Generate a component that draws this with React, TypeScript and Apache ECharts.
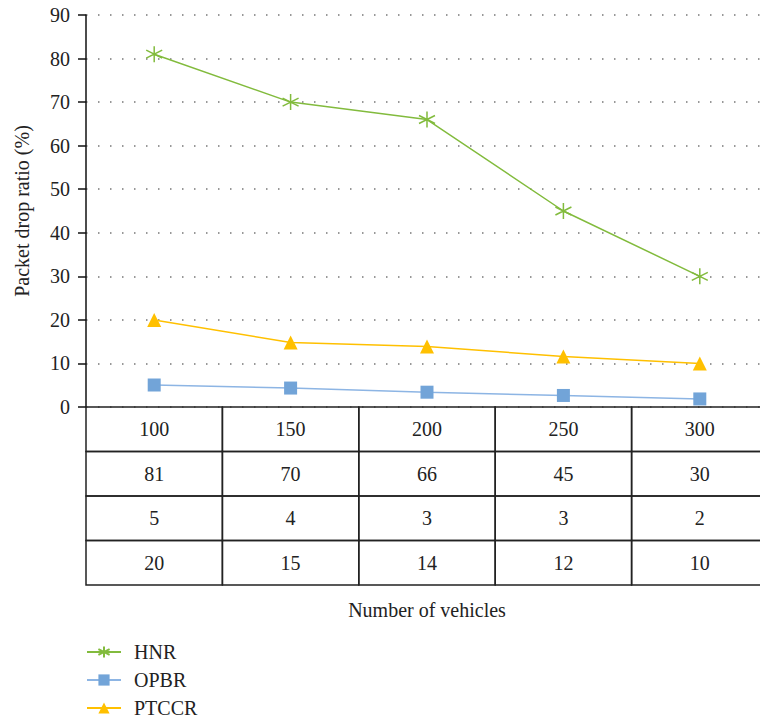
import React, { useEffect, useRef } from "react";
import * as echarts from "echarts";

const categories = ["100", "150", "200", "250", "300"];
const hnrValues = [81, 70, 66, 45, 30];
const opbrValues = [5.05, 4.35, 3.4, 2.65, 1.85];
const ptccrValues = [20, 14.8, 13.9, 11.6, 10];
const hnrTable = [81, 70, 66, 45, 30];
const opbrTable = [5, 4, 3, 3, 2];
const ptccrTable = [20, 15, 14, 12, 10];
const tableRows = ["Number of vehicles", "HNR", "OPBR", "PTCCR"];
const yTicks = { min: 0, max: 90, interval: 10 };

const FONT = "'Liberation Serif', 'DejaVu Serif', serif";
const FS = 20;
const GREEN = "#82bb3d";
const BLUE = "#72a4d8";
const BLUE_LINE = "#8db5e4";
const YELLOW = "#ffc000";
const STAR = "path://M0,-8L0,8M-7,-4L7,4M-7,4L7,-4";

export default function App() {
  const ref = useRef<HTMLDivElement>(null);
  useEffect(() => {
    if (!ref.current) return;
    const chart = echarts.init(ref.current, undefined, { renderer: "svg" });
    const rowValues = [categories, hnrTable, opbrTable, ptccrTable];
    const tableData: any[] = [];
    rowValues.forEach((row, ri) => {
      row.forEach((v, ci) => tableData.push([ci, ri, String(v)]));
    });
    chart.setOption({
      animation: false,
      textStyle: { fontFamily: FONT },
      grid: [
        { left: 86, top: 15, width: 695, height: 392 },
        { left: 86, top: 407, width: 695, height: 178 },
      ],
      xAxis: [
        {
          type: "category",
          gridIndex: 0,
          data: categories,
          boundaryGap: true,
          axisLine: { show: false },
          axisTick: { show: false },
          axisLabel: { show: false },
        },
        {
          type: "category",
          gridIndex: 1,
          data: categories,
          boundaryGap: true,
          axisLine: { show: false },
          axisTick: { show: false },
          axisLabel: { show: false },
          name: "Number of vehicles",
          nameLocation: "middle",
          nameGap: 15,
          nameTextStyle: { fontFamily: FONT, fontSize: FS, color: "#222", verticalAlign: "top" },
        },
      ],
      yAxis: [
        {
          type: "value",
          gridIndex: 0,
          min: yTicks.min,
          max: yTicks.max,
          interval: yTicks.interval,
          axisLine: { show: true, lineStyle: { color: "#111", width: 1.5 } },
          axisTick: { show: true, length: 8, lineStyle: { color: "#111", width: 1.5 } },
          axisLabel: { fontFamily: FONT, fontSize: FS, color: "#222", margin: 16 },
          splitLine: {
            show: true,
            lineStyle: { color: "#777", width: 1.5, type: [1.5, 10.5] },
          },
          name: "Packet drop ratio (%)",
          nameLocation: "middle",
          nameGap: 54,
          nameTextStyle: { fontFamily: FONT, fontSize: FS, color: "#222" },
        },
        {
          type: "category",
          gridIndex: 1,
          data: tableRows,
          inverse: true,
          axisLine: { show: false },
          axisTick: { show: false },
          axisLabel: { show: false },
        },
      ],
      legend: {
        orient: "vertical",
        left: 86,
        top: 642,
        padding: 0,
        itemWidth: 34,
        itemHeight: 14,
        itemGap: 8,
        textStyle: {
          fontFamily: FONT,
          fontSize: FS,
          color: "#222",
          lineHeight: 20,
          padding: [0, 0, 0, 8],
        },
        data: ["HNR", "OPBR", "PTCCR"],
      },
      series: [
        {
          name: "HNR",
          type: "line",
          xAxisIndex: 0,
          yAxisIndex: 0,
          data: hnrValues,
          symbol: STAR,
          symbolSize: 16,
          lineStyle: { color: GREEN, width: 1.5 },
          itemStyle: { color: GREEN, borderColor: GREEN, borderWidth: 1.5 },
        },
        {
          name: "OPBR",
          type: "line",
          xAxisIndex: 0,
          yAxisIndex: 0,
          data: opbrValues,
          symbol: "rect",
          symbolSize: 13,
          lineStyle: { color: BLUE_LINE, width: 1.5 },
          itemStyle: { color: BLUE },
        },
        {
          name: "PTCCR",
          type: "line",
          xAxisIndex: 0,
          yAxisIndex: 0,
          data: ptccrValues,
          symbol: "triangle",
          symbolSize: 14,
          lineStyle: { color: YELLOW, width: 1.5 },
          itemStyle: { color: YELLOW },
        },
        {
          type: "custom",
          xAxisIndex: 1,
          yAxisIndex: 1,
          data: tableData,
          silent: true,
          renderItem: (params: any, api: any) => {
            const c = api.coord([api.value(0), api.value(1)]);
            const s = api.size([1, 1]);
            return {
              type: "group",
              children: [
                {
                  type: "rect",
                  shape: { x: c[0] - s[0] / 2, y: c[1] - s[1] / 2, width: s[0], height: s[1] },
                  style: { fill: "none", stroke: "#222", lineWidth: 1.5 },
                },
                {
                  type: "text",
                  x: c[0],
                  y: c[1],
                  style: {
                    text: tableData[params.dataIndex][2],
                    fontFamily: FONT,
                    fontSize: FS,
                    fill: "#222",
                    align: "center",
                    verticalAlign: "middle",
                  },
                },
              ],
            };
          },
        },
      ],
    });
    return () => chart.dispose();
  }, []);
  return <div ref={ref} style={{ width: 768, height: 723, margin: -8 }} />;
}
